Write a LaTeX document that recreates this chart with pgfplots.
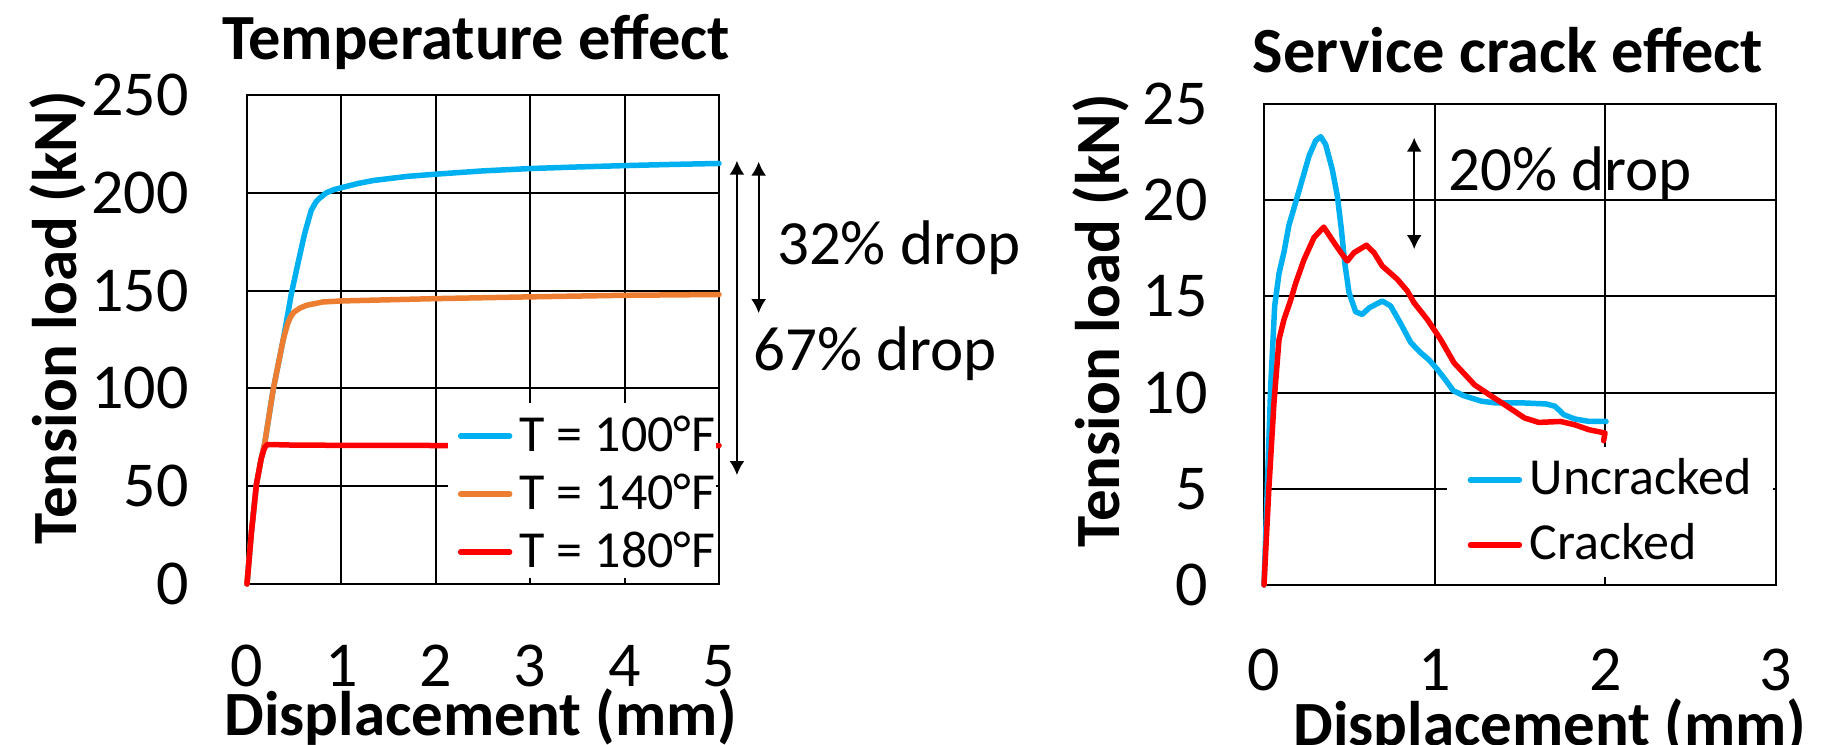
\documentclass[border=0pt]{standalone}
\usepackage{fontspec}
\setmainfont{Carlito}
\usepackage{pgfplots}
\pgfplotsset{compat=1.18}
\usetikzlibrary{arrows.meta}
\definecolor{cblue}{RGB}{0,176,240}
\definecolor{corange}{RGB}{237,125,49}
\definecolor{cred}{RGB}{255,0,0}
\pgfplotsset{
  mystyle/.style={
    scale only axis, clip=false,
    axis line style={black, line width=1.25pt},
    grid=major, major grid style={black, line width=1pt},
    major tick length=0pt,
    tick label style={font=\fontsize{32}{36}\selectfont, inner sep=0pt},
    /pgf/number format/assume math mode=true,
    xticklabel style={anchor=center, yshift=-41pt},
    yticklabel style={anchor=east, xshift=-29pt},
    legend cell align=left,
    every axis plot/.append style={line width=2.75pt, line cap=round, line join=round},
    legend image code/.code={\draw[##1, line width=2.75pt, line cap=round] (0pt,-1pt) -- (24.5pt,-1pt);},
  }
}
\begin{document}
\begin{tikzpicture}
\useasboundingbox (0,0) rectangle (915pt,372pt);
% ---------------- left ----------------
\begin{axis}[mystyle,
  at={(123.5pt,80pt)}, anchor=south west,
  width=236pt, height=244.5pt,
  xmin=0, xmax=5, ymin=0, ymax=250,
  xtick={0,1,2,3,4,5}, ytick={0,50,100,150,200,250},
  legend style={draw=none, fill=none, font=\fontsize{26}{30}\selectfont,
    at={(0.446,0.188)}, anchor=west, inner sep=0pt, row sep=12pt, column sep=3.75pt,
    nodes={inner sep=0pt, text height=17pt, text depth=0pt}},
]
\addplot[cblue] coordinates {(0,0)(0.046,26)(0.1,51)(0.15,64)(0.188,72)(0.276,99)(0.382,124.6)(0.41,132)(0.47,148.4)(0.54,164)(0.61,179)(0.68,191)(0.73,195.3)(0.77,197.3)(0.84,200)(0.92,201.6)(1.0,202.6)(1.17,204.7)(1.34,206.3)(1.7,208.4)(2.05,209.7)(2.5,211.2)(3,212.4)(3.5,213.2)(4,213.9)(4.5,214.5)(5,215)};
\addlegendentry{T = 100°F}
\addplot[corange] coordinates {(0,0)(0.046,26)(0.1,51)(0.15,64)(0.188,72)(0.276,99)(0.382,124.6)(0.43,133)(0.453,135.7)(0.48,138)(0.506,139.3)(0.56,141)(0.63,142.5)(0.807,144.2)(1,144.7)(1.5,145.3)(2,145.9)(3,146.8)(4,147.6)(5,148)};
\addlegendentry{T = 140°F}
\addplot[cred] coordinates {(0,0)(0.046,26)(0.1,51)(0.15,64)(0.185,69.5)(0.21,71.2)(0.25,71.3)(0.5,71)(1,70.9)(2,70.8)(3,70.8)(4,70.8)(5,70.8)};
\addlegendentry{T = 180°F}
\fill[white] (axis cs:2.124,3.3) rectangle (axis cs:4.97,92.5);
\draw[line width=1pt, {Latex[width=7.5pt,length=7pt]}-{Latex[width=7.5pt,length=7pt]}] (axis cs:5.19,216.4) -- (axis cs:5.19,55.7);
\draw[line width=1pt, {Latex[width=7.5pt,length=7pt]}-{Latex[width=7.5pt,length=7pt]}] (axis cs:5.42,215.9) -- (axis cs:5.42,138.5);
\node[anchor=base west, inner sep=0pt, font=\fontsize{31.5}{36}\selectfont] at (axis cs:5.611,163.1) {32\% drop};
\node[anchor=base west, inner sep=0pt, font=\fontsize{31.5}{36}\selectfont] at (axis cs:5.36,109.4) {67\% drop};
\end{axis}
% ---------------- right ----------------
\begin{axis}[mystyle,
  at={(632pt,79.5pt)}, anchor=south west,
  width=256pt, height=240.5pt,
  xmin=0, xmax=3, ymin=0, ymax=25,
  xtick={0,1,2,3}, ytick={0,5,10,15,20,25},
  xticklabel style={yshift=-1.5pt},
  yticklabel style={xshift=1pt},
  legend style={draw=none, fill=none, font=\fontsize{26}{30}\selectfont,
    at={(0.397,0.155)}, anchor=west, inner sep=0pt, row sep=15.5pt, column sep=3.75pt,
    nodes={inner sep=0pt, text height=17pt, text depth=0pt}},
]
\addplot[cblue] coordinates {(0,0)(0.0195,5.1)(0.039,10.3)(0.0625,14.5)(0.088,16.2)(0.117,17.3)(0.146,18.7)(0.186,19.9)(0.225,21.1)(0.264,22.3)(0.303,23.1)(0.332,23.3)(0.361,22.9)(0.40,21.6)(0.43,20.2)(0.453,18.5)(0.473,16.75)(0.498,15.2)(0.537,14.2)(0.576,14.06)(0.615,14.4)(0.693,14.76)(0.742,14.5)(0.80,13.6)(0.86,12.6)(0.918,12.07)(0.967,11.7)(1.016,11.2)(1.06,10.7)(1.109,10.1)(1.17,9.84)(1.276,9.55)(1.36,9.46)(1.527,9.46)(1.653,9.41)(1.705,9.29)(1.757,8.85)(1.82,8.63)(1.904,8.5)(2.004,8.5)};
\addlegendentry{Uncracked}
\addplot[cred] coordinates {(0,0)(0.029,5.1)(0.0586,9.5)(0.088,12.76)(0.117,13.8)(0.156,14.8)(0.186,15.7)(0.234,16.9)(0.293,18.06)(0.35,18.6)(0.41,17.8)(0.449,17.3)(0.488,16.84)(0.527,17.27)(0.60,17.66)(0.645,17.27)(0.693,16.58)(0.78,15.9)(0.84,15.28)(0.879,14.67)(0.957,13.8)(1.035,12.76)(1.113,11.55)(1.15,11.2)(1.234,10.4)(1.318,9.9)(1.40,9.43)(1.527,8.68)(1.61,8.45)(1.736,8.5)(1.82,8.33)(1.904,8.07)(1.998,7.9)(1.99,7.5)};
\addlegendentry{Cracked}
\fill[white] (axis cs:1.072,0.42) rectangle (axis cs:2.985,7.17);
\draw[line width=1pt, {Latex[width=7.5pt,length=7pt]}-{Latex[width=7.5pt,length=7pt]}] (axis cs:0.88,23.25) -- (axis cs:0.88,17.46);
\node[anchor=base west, inner sep=0pt, font=\fontsize{31.5}{36}\selectfont] at (axis cs:1.078,20.53) {20\% drop};
\end{axis}
% ---------------- titles and labels ----------------
\node[anchor=base, inner sep=0pt, font=\bfseries\fontsize{32.2}{36}\selectfont] at (238pt,342pt) {Temperature effect};
\node[anchor=base, inner sep=0pt, font=\bfseries\fontsize{32.2}{36}\selectfont] at (754pt,335.6pt) {Service crack effect};
\node[anchor=base, inner sep=0pt, font=\bfseries\fontsize{31.5}{36}\selectfont] at (240.5pt,4.5pt) {Displacement (mm)};
\node[anchor=base, inner sep=0pt, font=\bfseries\fontsize{31.5}{36}\selectfont] at (775pt,-0.5pt) {Displacement (mm)};
\node[rotate=90, anchor=base, inner sep=0pt, font=\bfseries\fontsize{31.5}{36}\selectfont] at (38pt,213pt) {Tension load (kN)};
\node[rotate=90, anchor=base, inner sep=0pt, font=\bfseries\fontsize{31.5}{36}\selectfont] at (559.5pt,211.5pt) {Tension load (kN)};
\end{tikzpicture}
\end{document}
